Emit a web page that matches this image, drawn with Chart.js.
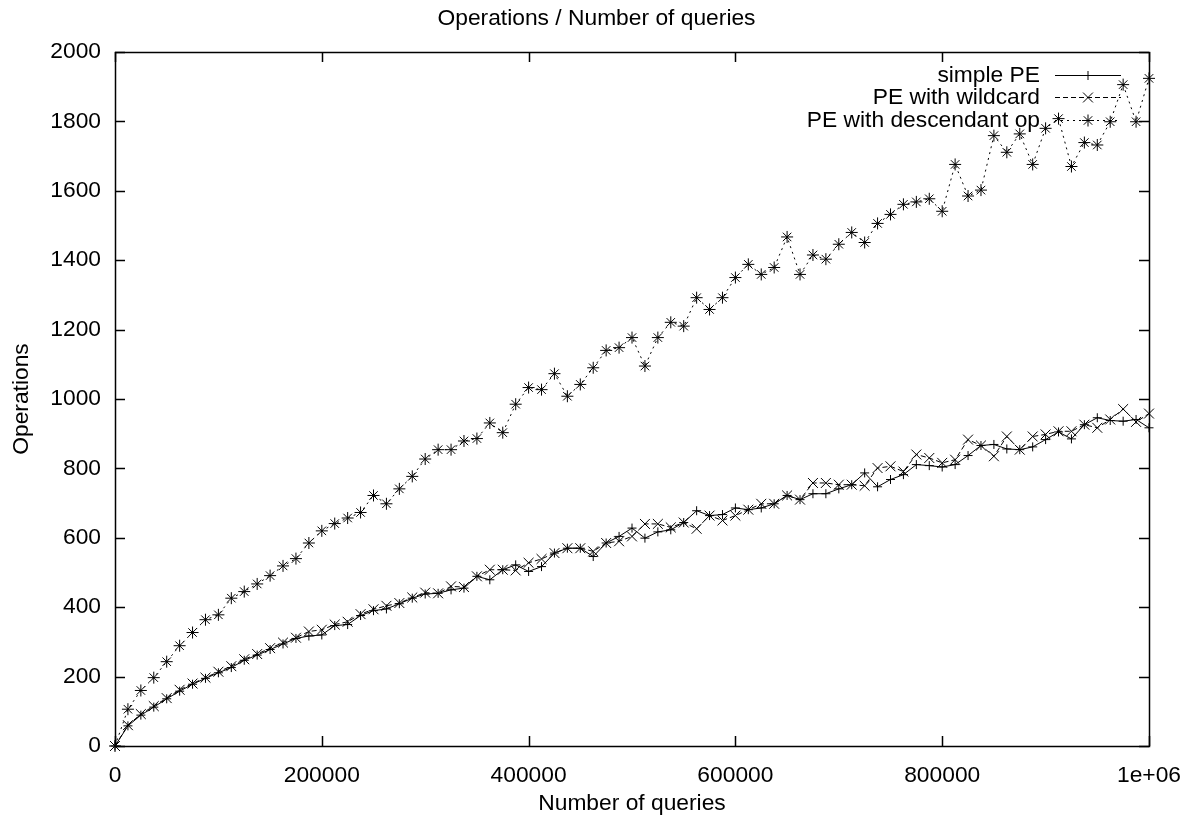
<!DOCTYPE html>
<html>
<head>
<meta charset="utf-8">
<title>Operations / Number of queries</title>
<script src="https://cdn.jsdelivr.net/npm/chart.js@4/dist/chart.umd.min.js"></script>
<style>
  html, body { margin: 0; padding: 0; background: #fff; }
  #wrap { width: 1193px; height: 818px; }
</style>
</head>
<body>
<div id="wrap"><canvas id="c" width="1193" height="818"></canvas></div>
<script>
// Number of queries processed at each measurement
const queries = [
  0, 12500, 25000, 37500, 50000, 62500, 75000, 87500, 100000, 112500,
  125000, 137500, 150000, 162500, 175000, 187500, 200000, 212500, 225000, 237500,
  250000, 262500, 275000, 287500, 300000, 312500, 325000, 337500, 350000, 362500,
  375000, 387500, 400000, 412500, 425000, 437500, 450000, 462500, 475000, 487500,
  500000, 512500, 525000, 537500, 550000, 562500, 575000, 587500, 600000, 612500,
  625000, 637500, 650000, 662500, 675000, 687500, 700000, 712500, 725000, 737500,
  750000, 762500, 775000, 787500, 800000, 812500, 825000, 837500, 850000, 862500,
  875000, 887500, 900000, 912500, 925000, 937500, 950000, 962500, 975000, 987500,
  1000000
];

// Operations for simple path expressions
const simplePE = [
  0, 58, 89, 112, 136, 158, 178, 195, 211, 226,
  247, 262, 278, 294, 310, 317, 320, 347, 350, 376,
  390, 395, 410, 426, 438, 440, 450, 455, 489, 479,
  508, 522, 503, 517, 556, 570, 570, 546, 585, 604,
  628, 599, 617, 623, 644, 678, 664, 667, 686, 681,
  686, 698, 722, 710, 727, 727, 741, 753, 787, 747,
  768, 782, 811, 808, 804, 811, 837, 866, 869, 856,
  854, 862, 883, 905, 885, 926, 946, 938, 936, 941,
  917
];

// Operations for path expressions with a wildcard step
const wildcardPE = [
  0, 60, 92, 115, 138, 162, 180, 197, 214, 230,
  250, 265, 282, 298, 312, 330, 335, 350, 358, 380,
  394, 404, 412, 428, 442, 440, 460, 458, 489, 508,
  508, 506, 528, 539, 556, 570, 570, 561, 585, 590,
  604, 640, 640, 630, 644, 626, 664, 650, 664, 681,
  698, 698, 722, 710, 758, 758, 753, 753, 750, 801,
  806, 791, 840, 830, 816, 825, 883, 866, 835, 892,
  854, 892, 898, 907, 907, 926, 917, 941, 971, 934,
  958
];

// Operations for path expressions with a descendant axis
const descendantPE = [
  0, 106, 160, 197, 243, 289, 327, 364, 378, 426,
  445, 467, 491, 519, 540, 585, 620, 641, 657, 673,
  722, 698, 741, 777, 827, 854, 854, 879, 886, 931,
  903, 985, 1033, 1027, 1073, 1008, 1042, 1090, 1140, 1148,
  1177, 1095, 1177, 1221, 1210, 1292, 1258, 1292, 1350, 1388,
  1359, 1379, 1467, 1359, 1415, 1403, 1446, 1480, 1451, 1506,
  1532, 1561, 1568, 1577, 1541, 1676, 1585, 1602, 1759, 1711,
  1764, 1676, 1780, 1808, 1670, 1739, 1732, 1799, 1906, 1799,
  1924
];

const chartTitle = 'Operations / Number of queries';
const seriesLabels = ['simple PE', 'PE with wildcard', 'PE with descendant op'];
const xTickValues = [0, 200000, 400000, 600000, 800000, 1000000];

const FONT = '"Liberation Sans", Arial, Helvetica, sans-serif';
const FONT_SIZE = 22.8;
const INK = '#000000';

function toPoints(values) {
  return values.map((v, i) => ({ x: queries[i], y: v }));
}

// Title centred across the whole canvas
const headingPlugin = {
  id: 'heading',
  afterDraw(chart) {
    const { ctx } = chart;
    ctx.save();
    ctx.font = FONT_SIZE + 'px ' + FONT;
    ctx.fillStyle = INK;
    ctx.textAlign = 'center';
    ctx.textBaseline = 'middle';
    ctx.fillText(chartTitle, chart.width / 2, 19);
    ctx.restore();
  }
};

// Frame with inward tick marks on all four sides (mirrored ticks)
const framePlugin = {
  id: 'frame',
  beforeDatasetsDraw(chart) {
    const { ctx, chartArea: a, scales } = chart;
    const len = 10;
    ctx.save();
    ctx.strokeStyle = INK;
    ctx.lineWidth = 1.5;
    ctx.beginPath();
    scales.x.ticks.forEach(t => {
      const px = Math.round(scales.x.getPixelForValue(t.value)) + 0.5;
      ctx.moveTo(px, a.bottom); ctx.lineTo(px, a.bottom - len);
      ctx.moveTo(px, a.top); ctx.lineTo(px, a.top + len);
    });
    scales.y.ticks.forEach(t => {
      const py = Math.round(scales.y.getPixelForValue(t.value)) + 0.5;
      ctx.moveTo(a.left, py); ctx.lineTo(a.left + len, py);
      ctx.moveTo(a.right, py); ctx.lineTo(a.right - len, py);
    });
    ctx.stroke();
    ctx.strokeRect(Math.round(a.left) + 0.5, Math.round(a.top) + 0.5,
                   Math.round(a.right - a.left), Math.round(a.bottom - a.top));
    ctx.restore();
  }
};

// Key in the upper right: label text on the left, line sample with marker on the right
const keyPlugin = {
  id: 'key',
  afterDraw(chart) {
    const { ctx, chartArea: a } = chart;
    const textRight = a.right - 109;
    const lineStart = a.right - 94;
    const lineEnd = a.right - 28;
    const firstY = a.top + 22.5;
    const step = 22.5;
    ctx.save();
    ctx.font = FONT_SIZE + 'px ' + FONT;
    ctx.textAlign = 'right';
    ctx.textBaseline = 'middle';
    chart.data.datasets.forEach((ds, i) => {
      const y = firstY + i * step;
      ctx.fillStyle = INK;
      ctx.fillText(ds.label, textRight, y + 1);
      ctx.strokeStyle = INK;
      ctx.lineWidth = 1;
      ctx.setLineDash(ds.borderDash || []);
      ctx.beginPath();
      ctx.moveTo(lineStart, Math.round(y) + 0.5);
      ctx.lineTo(lineEnd, Math.round(y) + 0.5);
      ctx.stroke();
      ctx.setLineDash([]);
      Chart.helpers.drawPoint(ctx, {
        pointStyle: ds.pointStyle,
        radius: ds.pointRadius,
        rotation: 0,
        borderWidth: 1
      }, (lineStart + lineEnd) / 2, Math.round(y) + 0.5);
    });
    ctx.restore();
  }
};

const common = {
  borderColor: INK,
  backgroundColor: INK,
  pointBorderColor: INK,
  pointBackgroundColor: INK,
  borderWidth: 1,
  pointBorderWidth: 1,
  showLine: true,
  tension: 0,
  clip: false
};

new Chart(document.getElementById('c'), {
  type: 'scatter',
  data: {
    datasets: [
      Object.assign({}, common, {
        label: seriesLabels[0],
        data: toPoints(simplePE),
        pointStyle: 'cross',
        pointRadius: 4.5,
        borderDash: []
      }),
      Object.assign({}, common, {
        label: seriesLabels[1],
        data: toPoints(wildcardPE),
        pointStyle: 'crossRot',
        pointRadius: 7,
        borderDash: [5, 3]
      }),
      Object.assign({}, common, {
        label: seriesLabels[2],
        data: toPoints(descendantPE),
        pointStyle: 'star',
        pointRadius: 6,
        borderDash: [2, 4]
      })
    ]
  },
  options: {
    responsive: false,
    animation: false,
    devicePixelRatio: 1,
    layout: { padding: { left: 0, right: 44, top: 52, bottom: 0 } },
    plugins: {
      legend: { display: false },
      tooltip: { enabled: false },
      title: { display: false }
    },
    scales: {
      x: {
        type: 'linear',
        min: 0,
        max: 1000000,
        border: { display: false },
        grid: { display: false, drawTicks: false },
        afterBuildTicks(scale) {
          scale.ticks = xTickValues.map(v => ({ value: v }));
        },
        afterFit(scale) {
          scale.height = 72;
          scale.paddingLeft = 0;
          scale.paddingRight = 0;
        },
        ticks: {
          color: INK,
          padding: 16,
          maxRotation: 0,
          autoSkip: false,
          font: { family: FONT, size: FONT_SIZE },
          callback: v => (v === 1000000 ? '1e+06' : String(v))
        },
        title: {
          display: true,
          text: 'Number of queries',
          color: INK,
          font: { family: FONT, size: FONT_SIZE },
          padding: { top: 0, bottom: 1 }
        }
      },
      y: {
        type: 'linear',
        min: 0,
        max: 2000,
        border: { display: false },
        grid: { display: false, drawTicks: false },
        afterFit(scale) {
          scale.width = 115;
          scale.paddingTop = 0;
          scale.paddingBottom = 0;
        },
        ticks: {
          color: INK,
          stepSize: 200,
          padding: 14,
          autoSkip: false,
          font: { family: FONT, size: FONT_SIZE },
          callback: v => String(v)
        },
        title: {
          display: true,
          text: 'Operations',
          color: INK,
          font: { family: FONT, size: FONT_SIZE },
          padding: { top: 8, bottom: 0 }
        }
      }
    }
  },
  plugins: [framePlugin, keyPlugin, headingPlugin]
});
</script>
</body>
</html>
